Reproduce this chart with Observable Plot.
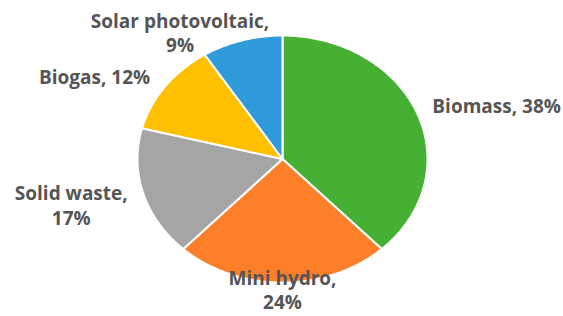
<!DOCTYPE html>
<html>
<head>
<meta charset="utf-8">
<script src="https://cdn.jsdelivr.net/npm/d3@7"></script>
<script src="https://cdn.jsdelivr.net/npm/@observablehq/plot@0.6"></script>
<style>
  html, body { margin: 0; padding: 0; background: #ffffff; }
  #chart svg { display: block; overflow: visible; }
</style>
</head>
<body>
<div id="chart"></div>
<script>
// ---- Data ----
const categories = ["Biomass", "Mini hydro", "Solid waste", "Biogas", "Solar photovoltaic"];
const shares = [38, 24, 17, 12, 9];
const sliceColors = ["#46b035", "#fd7f2a", "#a5a5a5", "#ffc000", "#2f9bdb"];
const wrapLabel = [false, true, true, false, true];

// ---- Label layout (pixel offsets from the slice's outer mid-point) ----
const labelLayout = [
  {textAnchor: "start",  dx: 15,    dy: -8,  lineHeight: 1.25},
  {textAnchor: "middle", dx: 0,     dy: 7,   lineHeight: 1.25},
  {textAnchor: "middle", dx: -72,   dy: 11,  lineHeight: 1.3},
  {textAnchor: "end",    dx: -15,   dy: -10, lineHeight: 1.25},
  {textAnchor: "middle", dx: -62,   dy: -8,  lineHeight: 1.25}
];

const rows = categories.map((c, i) => ({category: c, share: shares[i], color: sliceColors[i], i}));
const arcs = d3.pie().sort(null).value(d => d.share).startAngle(0).endAngle(2 * Math.PI)(rows);

// polygon points for each slice (unit circle, y up; angle clockwise from 12 o'clock)
const slices = arcs.map(a => {
  const pts = [{x: 0, y: 0}];
  const n = Math.max(2, Math.ceil((a.endAngle - a.startAngle) / (2 * Math.PI) * 360));
  for (let k = 0; k <= n; ++k) {
    const t = a.startAngle + (a.endAngle - a.startAngle) * k / n;
    pts.push({x: Math.sin(t), y: Math.cos(t)});
  }
  return {color: a.data.color, points: pts};
});

const labels = arcs.map(a => {
  const m = (a.startAngle + a.endAngle) / 2;
  const d = a.data;
  const text = wrapLabel[d.i] ? `${d.category},\n${d.share}%` : `${d.category}, ${d.share}%`;
  return {x: Math.sin(m), y: Math.cos(m), text, i: d.i};
});

const W = 563, H = 316;
const chart = Plot.plot({
  width: W,
  height: H,
  marginLeft: 137,
  marginRight: W - 427,
  marginTop: 35,
  marginBottom: H - 282,
  x: {domain: [-1, 1], axis: null},
  y: {domain: [-1, 1], axis: null},
  style: {background: "#ffffff", overflow: "visible"},
  marks: [
    ...slices.map(s => Plot.line(s.points, {
      x: "x", y: "y", fill: s.color, stroke: "#ffffff", strokeWidth: 2,
      curve: "linear-closed", strokeLinejoin: "round"
    })),
    ...labels.map(l => Plot.text([l], {
      x: "x", y: "y", text: "text",
      textAnchor: labelLayout[l.i].textAnchor,
      dx: labelLayout[l.i].dx, dy: labelLayout[l.i].dy,
      lineAnchor: "middle", lineHeight: labelLayout[l.i].lineHeight,
      fontFamily: "Open Sans", fontWeight: 700, fontSize: 19,
      fill: "#555555"
    }))
  ]
});
document.getElementById("chart").appendChild(chart);
</script>
</body>
</html>
